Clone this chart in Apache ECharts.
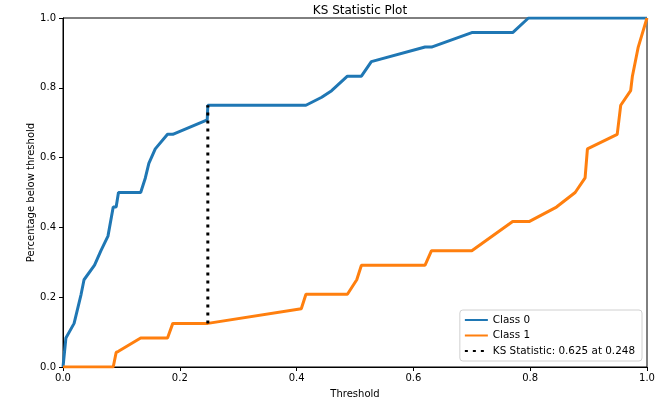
<!DOCTYPE html>
<html>
<head>
<meta charset="utf-8">
<script src="https://cdn.jsdelivr.net/npm/echarts@6/dist/echarts.min.js"></script>
<style>html,body{margin:0;padding:0;background:#fff}#c{width:664px;height:408px}</style>
</head>
<body>
<div id="c"></div>
<script>
const titleText = 'KS Statistic Plot';
const xName = 'Threshold';
const yName = 'Percentage below threshold';
const ticks = [0, 0.2, 0.4, 0.6, 0.8, 1.0];

const class0 = [
  [0,0],[0.005,0.0833],[0.019,0.125],[0.031,0.2083],[0.036,0.25],[0.054,0.2917],
  [0.065,0.3333],[0.077,0.375],[0.086,0.4583],[0.091,0.4583],[0.095,0.5],[0.133,0.5],
  [0.141,0.5417],[0.147,0.5833],[0.158,0.625],[0.179,0.6667],[0.188,0.6667],
  [0.247,0.7083],[0.248,0.75],[0.416,0.75],[0.443,0.773],[0.46,0.7917],[0.487,0.8333],
  [0.511,0.8333],[0.528,0.875],[0.62,0.9167],[0.631,0.9167],[0.70,0.9583],[0.77,0.9583],
  [0.797,1],[1,1]
];
const class1 = [
  [0,0],[0.086,0],[0.091,0.0417],[0.095,0.045],[0.133,0.0833],[0.179,0.0833],[0.188,0.125],
  [0.248,0.125],[0.408,0.1667],[0.416,0.2083],[0.487,0.2083],[0.503,0.25],[0.511,0.2917],
  [0.62,0.2917],[0.631,0.3333],[0.70,0.3333],[0.77,0.4167],[0.798,0.4167],[0.845,0.4583],
  [0.877,0.5],[0.894,0.5417],[0.898,0.625],[0.949,0.6667],[0.955,0.75],[0.972,0.7917],
  [0.975,0.8333],[0.985,0.9167],[1,1]
];
const ksStat = 0.625;
const ksAt = 0.248;
const ksLine = [[0.248,0.125],[0.248,0.75]];
const names = ['Class 0', 'Class 1', 'KS Statistic: ' + ksStat + ' at ' + ksAt];

const font = 'DejaVu Sans';
const chart = echarts.init(document.getElementById('c'), null, {renderer:'canvas'});
const axisCommon = {
  type: 'value', min: 0, max: 1, interval: 0.2,
  nameLocation: 'middle',
  nameMoveOverlap: false,
  nameTextStyle: {fontFamily: font, fontSize: 10, color: '#000'},
  axisLine: {show: true, lineStyle: {color: '#000', width: 1}},
  axisTick: {show: true, inside: false, length: 4, lineStyle: {color: '#000', width: 1}},
  axisLabel: {fontFamily: font, fontSize: 10, color: '#000', formatter: v => v.toFixed(1)},
  splitLine: {show: false}
};
chart.setOption({
  animation: false,
  backgroundColor: '#fff',
  title: {
    text: titleText, left: 355, top: 0, textAlign: 'center',
    textStyle: {fontFamily: font, fontSize: 12, fontWeight: 'normal', color: '#000'}
  },
  grid: {left: 63, right: 17, top: 18, bottom: 41, show: true, borderColor: '#000', borderWidth: 1, backgroundColor: 'transparent'},
  xAxis: Object.assign({}, axisCommon, {name: xName, nameGap: 22, axisLabel: Object.assign({}, axisCommon.axisLabel, {margin: 6})}),
  yAxis: Object.assign({}, axisCommon, {name: yName, nameGap: 27, axisLabel: Object.assign({}, axisCommon.axisLabel, {margin: 7})}),
  legend: {
    orient: 'vertical', right: 22, bottom: 47,
    data: names,
    itemWidth: 23, itemHeight: 10, itemGap: 5.5,
    padding: [5, 7, 5, 4],
    borderColor: '#d0d0d0', borderWidth: 1, borderRadius: 3,
    backgroundColor: 'rgba(255,255,255,0.8)',
    itemStyle: {color: 'transparent', borderWidth: 0, opacity: 0},
    textStyle: {fontFamily: font, fontSize: 10.4, color: '#000'}
  },
  series: [
    {name: names[0], type: 'line', data: class0, symbol: 'none', lineStyle: {color: '#1f77b4', width: 3}, itemStyle: {color: '#1f77b4'}, z: 3},
    {name: names[1], type: 'line', data: class1, symbol: 'none', lineStyle: {color: '#ff7f0e', width: 3}, itemStyle: {color: '#ff7f0e'}, z: 3},
    {name: names[2], type: 'line', data: ksLine, symbol: 'none', lineStyle: {color: '#000', width: 3, type: [3, 5], cap: 'butt'}, itemStyle: {color: '#000'}, z: 4}
  ]
});
</script>
</body>
</html>
